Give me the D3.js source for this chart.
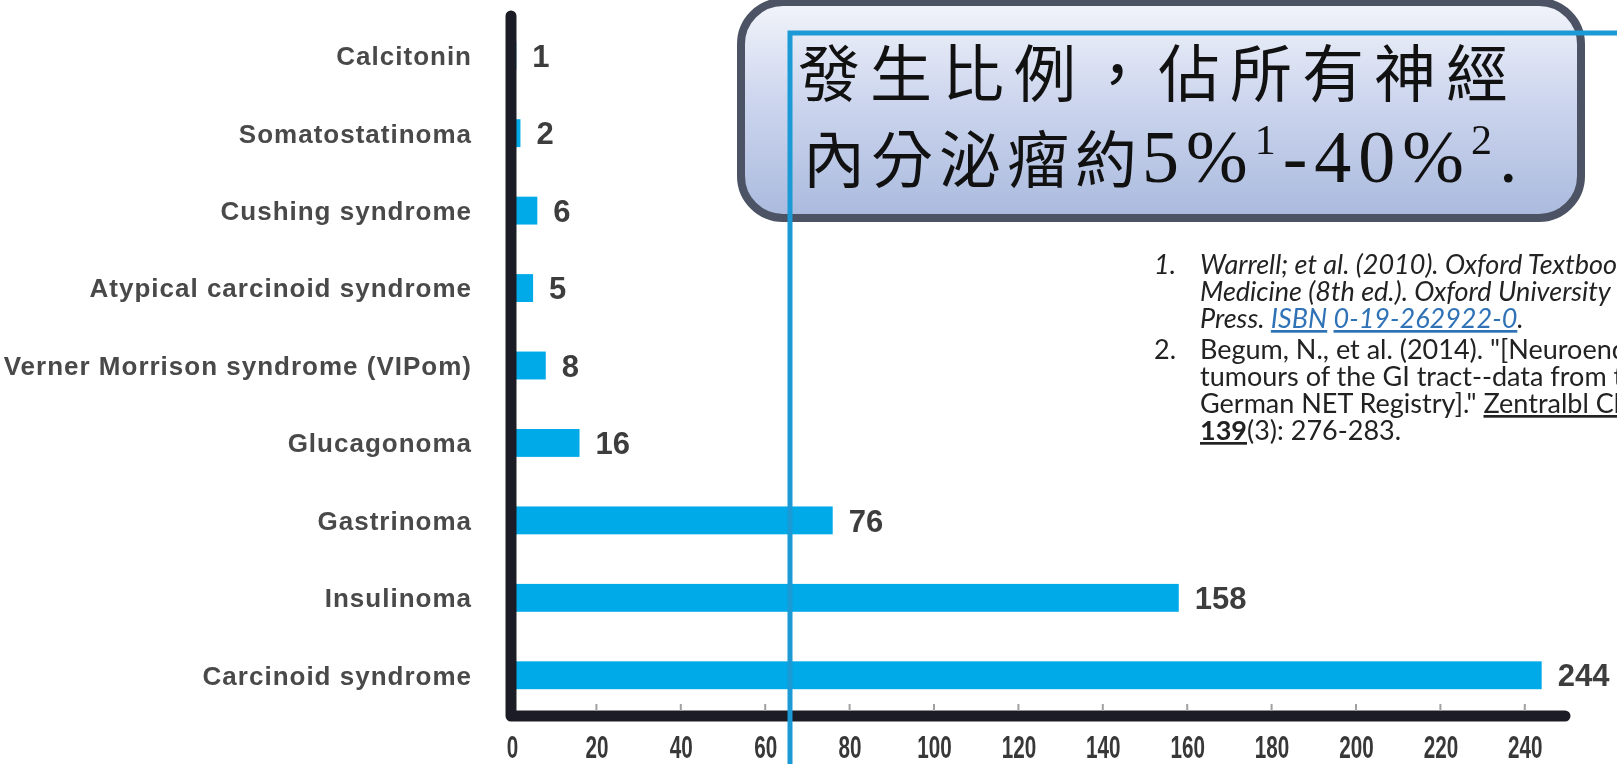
<!DOCTYPE html>
<html>
<head>
<meta charset="utf-8">
<script src="https://cdn.jsdelivr.net/npm/d3@7"></script>
<style>
  html, body { margin: 0; padding: 0; background: #fff; overflow: hidden; }
  svg { display: block; }
</style>
</head>
<body>
<svg id="chart" width="1617" height="764"></svg>
<script>
// Syndromes / tumour types and number of cases
const categories = [
  "Calcitonin",
  "Somatostatinoma",
  "Cushing syndrome",
  "Atypical carcinoid syndrome",
  "Verner Morrison syndrome (VIPom)",
  "Glucagonoma",
  "Gastrinoma",
  "Insulinoma",
  "Carcinoid syndrome"
];
const cases = [1, 2, 6, 5, 8, 16, 76, 158, 244];
const xTicks = [0, 20, 40, 60, 80, 100, 120, 140, 160, 180, 200, 220, 240];
const xDomain = [0, 250];

// Callout text
const calloutLine1 = "發生比例，佔所有神經";
const calloutLine2 = "內分泌瘤約";
const calloutRange = [
  { t: "5%", sup: false },
  { t: "1", sup: true },
  { t: "-40%", sup: false },
  { t: "2", sup: true },
  { t: ".", sup: false }
];

// Reference list, one array of runs per printed line
const refNumbers = [
  { n: "1.", line: 0, italic: true },
  { n: "2.", line: 3, italic: false }
];
const refLines = [
  [{ t: "Warrell; et al. (2010). Oxford Textbook of", i: true }],
  [{ t: "Medicine (8th ed.). Oxford University", i: true }],
  [{ t: "Press. ", i: true }, { t: "ISBN", i: true, link: true }, { t: " ", i: true }, { t: "0-19-262922-0", i: true, link: true }, { t: ".", i: true }],
  [{ t: "Begum, N., et al. (2014). \"[Neuroendocrine" }],
  [{ t: "tumours of the GI tract--data from the" }],
  [{ t: "German NET Registry].\" " }, { t: "Zentralbl Chir", u: true }],
  [{ t: "139", b: true, u: true }, { t: "(3): 276-283." }]
];

const svg = d3.select("#chart");
const defs = svg.append("defs");

defs.append("filter").attr("id", "soft")
  .attr("x", "-5%").attr("y", "-5%").attr("width", "110%").attr("height", "110%")
  .append("feGaussianBlur").attr("stdDeviation", 0.7);

const grad = defs.append("linearGradient").attr("id", "boxFill")
  .attr("x1", 0).attr("y1", 0).attr("x2", 0).attr("y2", 1);
grad.append("stop").attr("offset", "0%").attr("stop-color", "#f2f4fa");
grad.append("stop").attr("offset", "45%").attr("stop-color", "#cdd6ee");
grad.append("stop").attr("offset", "100%").attr("stop-color", "#aabade");

// ---------- bar chart ----------
const x = d3.scaleLinear().domain(xDomain).range([512, 1567]);
const y = d3.scaleBand().domain(categories).range([17, 714])
  .paddingInner(0.64).paddingOuter(0.32);
const axisY = 716;

const chart = svg.append("g").attr("filter", "url(#soft)");

chart.append("g").selectAll("rect")
  .data(categories)
  .join("rect")
  .attr("x", x(0))
  .attr("y", d => y(d))
  .attr("width", (d, i) => x(cases[i]) - x(0))
  .attr("height", y.bandwidth())
  .attr("fill", "#05a9e8");

// thick L-shaped axis frame
chart.append("path")
  .attr("d", `M${x(0) - 1},16 L${x(0) - 1},${axisY} L${x.range()[1] - 2},${axisY}`)
  .attr("fill", "none")
  .attr("stroke", "#1f1f25")
  .attr("stroke-width", 11)
  .attr("stroke-linecap", "round")
  .attr("stroke-linejoin", "round");

// light tick notches on the axis
chart.append("g").selectAll("line")
  .data(xTicks.filter(t => t > 0))
  .join("line")
  .attr("x1", d => x(d)).attr("x2", d => x(d))
  .attr("y1", axisY - 12).attr("y2", axisY - 5)
  .attr("stroke", "#a0a0a0").attr("stroke-width", 2);

const xAxis = chart.append("g")
  .attr("transform", `translate(0,${axisY})`)
  .call(d3.axisBottom(x).tickValues(xTicks).tickSize(0).tickPadding(20));
xAxis.select(".domain").remove();
xAxis.selectAll("text")
  .attr("font-family", "'Liberation Sans', Arial, sans-serif")
  .attr("font-size", 31)
  .attr("font-weight", "bold")
  .attr("fill", "#383838")
  .attr("textLength", d => String(d).length * 11.5)
  .attr("lengthAdjust", "spacingAndGlyphs");

// category labels
chart.append("g").selectAll("text")
  .data(categories)
  .join("text")
  .attr("x", 472)
  .attr("y", d => y(d) + y.bandwidth() / 2)
  .attr("dy", "0.36em")
  .attr("text-anchor", "end")
  .attr("font-family", "'Liberation Sans', Arial, sans-serif")
  .attr("font-size", 26)
  .attr("font-weight", "bold")
  .attr("letter-spacing", 1)
  .attr("fill", "#4a4a4a")
  .text(d => d);

// value labels
chart.append("g").selectAll("text")
  .data(categories)
  .join("text")
  .attr("x", (d, i) => x(cases[i]) + 16)
  .attr("y", d => y(d) + y.bandwidth() / 2)
  .attr("dy", "0.36em")
  .attr("font-family", "'Liberation Sans', Arial, sans-serif")
  .attr("font-size", 31)
  .attr("font-weight", "bold")
  .attr("fill", "#3c3c3c")
  .text((d, i) => cases[i]);

// ---------- callout box ----------
svg.append("rect")
  .attr("x", 741).attr("y", 2)
  .attr("width", 840).attr("height", 216)
  .attr("rx", 42).attr("ry", 42)
  .attr("fill", "url(#boxFill)")
  .attr("stroke", "#4b5364")
  .attr("stroke-width", 8);

svg.append("text")
  .attr("x", 798).attr("y", 97)
  .attr("font-family", "'Noto Sans CJK TC', 'Noto Sans CJK SC', sans-serif")
  .attr("font-size", 62)
  .attr("letter-spacing", 10)
  .attr("fill", "#111")
  .text(calloutLine1);

svg.append("text")
  .attr("x", 803).attr("y", 183)
  .attr("font-family", "'Noto Sans CJK TC', 'Noto Sans CJK SC', sans-serif")
  .attr("font-size", 62)
  .attr("letter-spacing", 6)
  .attr("fill", "#111")
  .text(calloutLine2);

const rangeText = svg.append("text")
  .attr("x", 1142).attr("y", 182)
  .attr("font-family", "'Liberation Serif', 'Times New Roman', serif")
  .attr("font-size", 74)
  .attr("letter-spacing", 7)
  .attr("fill", "#111");
let raised = false;
calloutRange.forEach(r => {
  const ts = rangeText.append("tspan").text(r.t);
  if (r.sup) { ts.attr("font-size", 42).attr("dy", raised ? 0 : -28); raised = true; }
  else { if (raised) ts.attr("dy", 28); raised = false; }
});

// ---------- references ----------
const refX = 1200, numX = 1154;
const refBaselines = [274, 301, 328, 359, 386, 413, 440];
const refG = svg.append("g")
  .attr("font-family", "Lato, 'Open Sans', sans-serif")
  .attr("font-size", 27)
  .attr("fill", "#222");

refNumbers.forEach(r => {
  refG.append("text")
    .attr("x", numX).attr("y", refBaselines[r.line])
    .attr("font-style", r.italic ? "italic" : "normal")
    .text(r.n);
});

refLines.forEach((runs, li) => {
  const t = refG.append("text").attr("x", refX).attr("y", refBaselines[li]);
  runs.forEach(r => {
    const ts = t.append("tspan").text(r.t);
    if (r.i) ts.attr("font-style", "italic");
    if (r.b) ts.attr("font-weight", "bold");
    if (r.link) ts.attr("fill", "#2f72b6").attr("text-decoration", "underline");
    if (r.u) ts.attr("text-decoration", "underline");
  });
});

// ---------- connector lines ----------
svg.append("path")
  .attr("d", "M790,764 L790,33 L1617,33")
  .attr("fill", "none")
  .attr("stroke", "#1b9ad6")
  .attr("stroke-width", 5);
</script>
</body>
</html>
